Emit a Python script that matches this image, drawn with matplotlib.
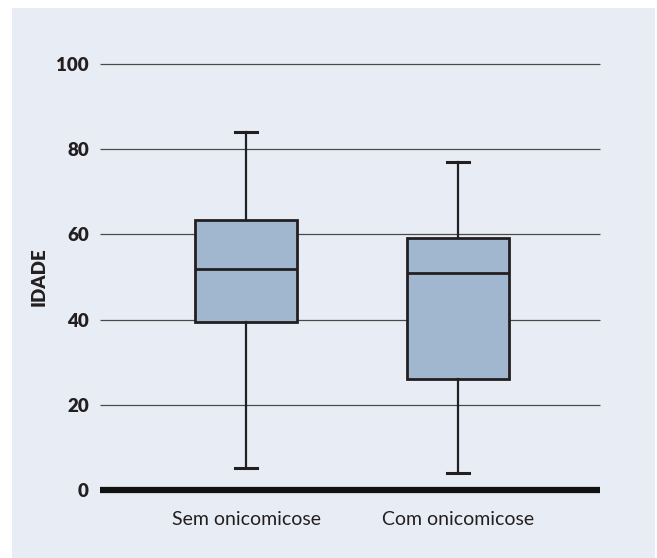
import matplotlib.pyplot as plt
from matplotlib.patches import Rectangle

# age distribution per group
groups = ['Sem onicomicose', 'Com onicomicose']
whisker_low = [5.1, 4.1]
quart_1 = [39.4, 26.1]
medians = [51.9, 51.0]
quart_3 = [63.4, 59.2]
whisker_high = [84.0, 77.0]
y_ticks = [0, 20, 40, 60, 80, 100]

plt.rcParams['font.family'] = ['Lato', 'DejaVu Sans']

W, H = 657, 558
fig = plt.figure(figsize=(W / 100, H / 100), dpi=100)
fig.patch.set_facecolor('white')
fig.patches.append(Rectangle((12 / W, 0), (655 - 12) / W, (H - 8) / H,
                             transform=fig.transFigure, facecolor='#e8edf5',
                             edgecolor='none', zorder=-10))

ax = fig.add_axes([100 / W, (H - 490) / H, 500 / W, 426 / H])
ax.set_facecolor('none')

stats = []
for i, name in enumerate(groups):
    stats.append({'label': name, 'whislo': whisker_low[i], 'q1': quart_1[i],
                  'med': medians[i], 'q3': quart_3[i], 'whishi': whisker_high[i],
                  'fliers': []})

ax.bxp(stats, positions=[1, 2], widths=0.481, capwidths=0.104,
       patch_artist=True, showfliers=False,
       boxprops=dict(facecolor='#a1b7cf', edgecolor='#231f20', linewidth=2.0),
       medianprops=dict(color='#231f20', linewidth=2.0),
       whiskerprops=dict(color='#231f20', linewidth=1.6),
       capprops=dict(color='#231f20', linewidth=2.2),
       zorder=3)

ax.set_xlim(1 - 146 / 212, 2 + 142 / 212)
ax.set_ylim(0, 100)

for v in y_ticks:
    if v == 0:
        ax.axhline(v, color='#111111', linewidth=4.5, clip_on=False, zorder=4,
                   solid_capstyle='butt')
    else:
        ax.axhline(v, color='#4a4a4a', linewidth=0.9, clip_on=False, zorder=1,
                   solid_capstyle='butt')

for s in ax.spines.values():
    s.set_visible(False)

ax.set_yticks(y_ticks)
ax.set_yticklabels([str(v) for v in y_ticks], fontsize=13.5, fontweight='heavy',
                   color='#231f20')
ax.tick_params(axis='y', length=0, pad=8)
ax.tick_params(axis='x', length=0, pad=15)
ax.set_xticks([1, 2])
ax.set_xticklabels(groups, fontsize=14, color='#231f20')

ax.set_ylabel('IDADE', fontsize=13.5, fontweight='heavy', color='#231f20',
              labelpad=6)

fig.savefig('out.png', dpi=100)
